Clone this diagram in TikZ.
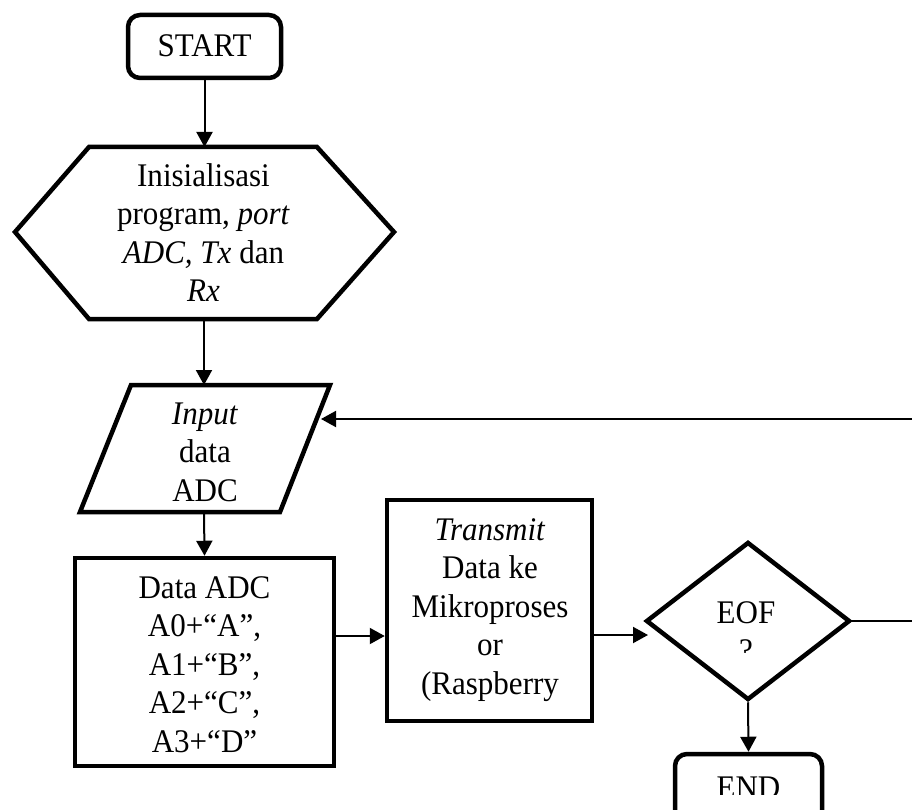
\documentclass[tikz,border=0pt]{standalone}
\usepackage{fontspec}
\setmainfont{Liberation Serif}[FakeStretch=0.94]
\usetikzlibrary{shapes.geometric,arrows.meta}
% one strut per line keeps the line boxes a fixed size
\newcommand{\lnst}{\rule[-11pt]{0pt}{38.5pt}}
\begin{document}
\begin{tikzpicture}[x=1pt,y=-1pt,
  outline/.style={draw,line width=4.5pt,line join=miter},
  terminal/.style={outline,rounded corners=12pt,inner sep=0pt},
  process/.style={outline,inner sep=0pt},
  decision/.style={outline,diamond,inner sep=0pt},
  flow/.style={draw,line width=2pt,-{Triangle[width=16pt,length=15pt]}},
  txt/.style={align=center,inner sep=0pt,font=\fontsize{33}{38.5}\selectfont}]
\useasboundingbox (0,0) rectangle (912,810);

% start terminal
\node[terminal,minimum width=153pt,minimum height=63pt] (start) at (204.5,46.5) {};
\node[txt] (startT) at (204.5,48.75) {\lnst START};

% initialisation (hexagon)
\draw[outline] (15,232) -- (89,147) -- (317,147) -- (394,232) -- (317,319) -- (89,319) -- cycle;
\coordinate (initN) at (204.5,147);
\coordinate (initS) at (204,319);
\node[txt] (initT) at (203.5,235.5) {\lnst Inisialisasi\\\lnst program, \textit{port}\\\lnst\textit{ADC, Tx} dan\\\lnst\textit{Rx}};

% input (parallelogram)
\draw[outline] (131,385) -- (330,385) -- (280,512) -- (80,512) -- cycle;
\coordinate (inN) at (204,385);
\coordinate (inS) at (204,512);
\coordinate (inE) at (321,419);
\node[txt] (inputT) at (205,454.25) {\lnst\textit{Input}\\\lnst data\\\lnst ADC};

% data process
\node[process,minimum width=259pt,minimum height=208pt] (data) at (204.5,662) {};
\node[txt] (dataT) at (204.5,666.75) {\lnst Data ADC\\\lnst A0+“A”,\\\lnst A1+“B”,\\\lnst A2+“C”,\\\lnst A3+“D”};

% transmit process
\node[process,minimum width=205pt,minimum height=221pt] (trans) at (489.5,610.5) {};
\node[txt] (transT) at (490,608.75) {\lnst\textit{Transmit}\\\lnst Data ke\\\lnst Mikroproses\\\lnst or\\\lnst (Raspberry};

% decision
\node[decision,minimum width=204pt,minimum height=158pt] (eof) at (748,621) {};
\coordinate (eofW) at (648,635);
\begin{scope}
  \clip (600,560) rectangle (900,652);
  \node[txt] (eofT) at (746,634) {\lnst EOF\\\lnst ?};
\end{scope}

% end terminal
\node[terminal,minimum width=147pt,minimum height=80pt] (stop) at (748.5,794) {};
\begin{scope}
  \clip (600,700) rectangle (900,794);
  \node[txt] (stopT) at (748.5,789.75) {\lnst END};
\end{scope}

% connectors
\draw[flow] (start.south) -- (initN);
\draw[flow] (initS) -- (inN);
\draw[flow] (inS) -- (data.north);
\draw[flow] (data.east |- 0,636) -- (trans.west |- 0,636);
\draw[flow] (trans.east |- 0,635) -- (eofW);
\draw[flow] (eof.south) -- (stop.north);
\draw[flow] (eof.east) -- ++(80,0) |- (inE);
\end{tikzpicture}
\end{document}
